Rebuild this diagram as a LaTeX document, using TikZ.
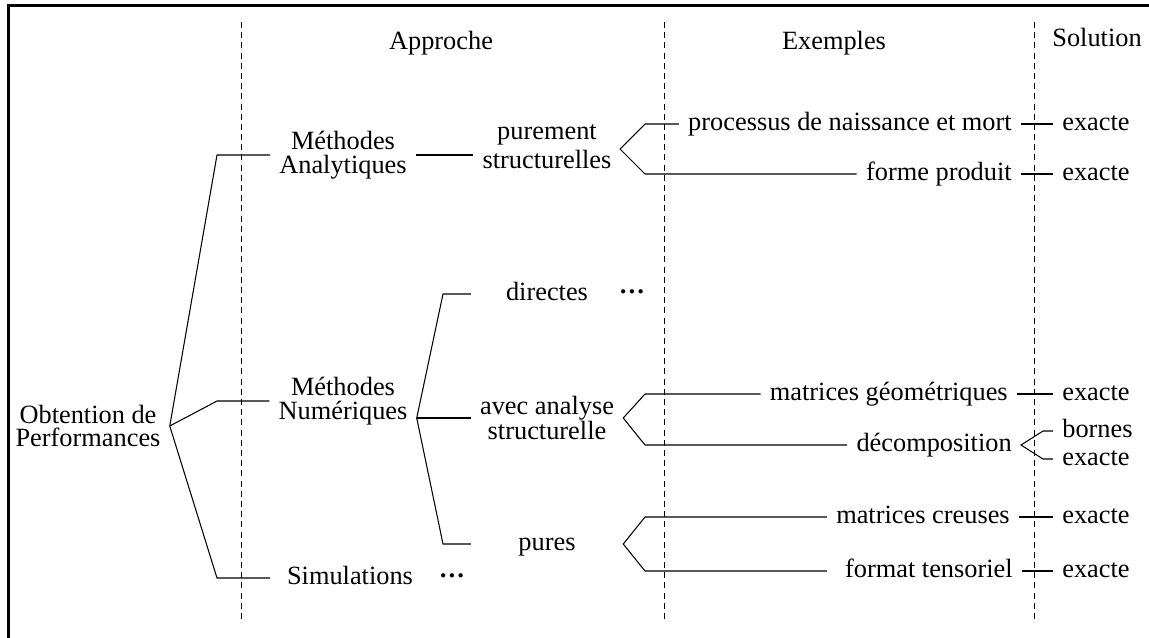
\documentclass[tikz,border=0pt]{standalone}
\usepackage{fontspec}
\setmainfont{Liberation Serif}
\begin{document}
\begin{tikzpicture}[x=0.02cm,y=-0.02cm,line width=0.6pt,
  every node/.style={font=\fontsize{15}{13.5}\selectfont,inner sep=5pt},
  one/.style={text height=10.5pt,text depth=3pt},
  two/.style={align=center},
  sep/.style={dashed,dash pattern=on 3.4pt off 2.4pt,line width=0.5pt}]
\useasboundingbox (0,0) rectangle (1149,637);
\draw[line width=1.7pt] (8.5,660) -- (8.5,5.5) -- (1170,5.5);

\draw[sep] (241.5,22) -- (241.5,622);
\draw[sep] (664,22) -- (664,622);
\draw[sep] (1034.5,22) -- (1034.5,622);

\node[anchor=base] (happ) at (441,49) {Approche};
\node[anchor=base] (hexp) at (834,49) {Exemples};
\node[anchor=base] (hsol) at (1097,46) {Solution};

\node[two] (obt) at (88,426) {Obtention de\\Performances};
\node[two] (ma) at (343,155) {Méthodes\\Analytiques};
\node[two] (mn) at (343,401) {Méthodes\\Numériques};
\node[one] (sim) at (350,578) {Simulations};
\node[one] (simd) at (452,578) {\textbf{···}};

\node[two] (pa) at (547,147) {purement\\[1.8pt]structurelles};
\node[one] (dir) at (547,294) {directes};
\node[one] (dird) at (632,294) {\textbf{···}};
\node[two] (aa) at (547,418) {avec analyse\\structurelle};
\node[one] (pu) at (547,544) {pures};

\node[one,anchor=east] (pn) at (1021,124) {processus de naissance et mort};
\node[one,anchor=east] (fp) at (1021,174) {forme produit};
\node[one,anchor=east] (mg) at (1017,394) {matrices géométriques};
\node[one,anchor=east] (dc) at (1021,445) {décomposition};
\node[one,anchor=east] (mc) at (1019,517) {matrices creuses};
\node[one,anchor=east] (ft) at (1022,571) {format tensoriel};

\node[one,anchor=west] (s1) at (1053,124) {exacte};
\node[one,anchor=west] (s2) at (1053,174) {exacte};
\node[one,anchor=west] (s3) at (1053,394) {exacte};
\node[one,anchor=west] (s4) at (1053,431) {bornes};
\node[one,anchor=west] (s5) at (1053,459) {exacte};
\node[one,anchor=west] (s6) at (1053,517) {exacte};
\node[one,anchor=west] (s7) at (1053,571) {exacte};

\coordinate (c0) at (217,0);
\coordinate (c1) at (443,0);
\coordinate (c2) at (645,0);
\coordinate (c3) at (1043,0);
\coordinate (fa) at (620,149);
\coordinate (t1) at (mn.east |- aa.east);
\coordinate (fc) at (aa.east |- pu);

\draw (obt.east) -- (ma.west -| c0) -- (ma.west);
\draw (obt.east) -- (mn.west -| c0) -- (mn.west);
\draw (obt.east) -- (sim -| c0) -- (sim -| ma.west);
\draw (ma.east) -- (ma.east -| pa.west);

\draw (t1) -- (dir -| c1) -- (dir -| aa.west);
\draw (t1) -- (aa.west);
\draw (t1) -- (pu -| c1) -- (pu -| aa.west);

\draw (pn.west) -- (pn.west -| c2) -- (fa) -- (fp.west -| c2) -- (fp.west);
\draw (mg.west) -- (mg.west -| c2) -- (aa.east) -- (dc.west -| c2) -- (dc.west);
\draw (mc.west) -- (mc.west -| c2) -- (fc) -- (ft.west -| c2) -- (ft -| mc.west);

\draw (pn) -- (s1);
\draw (fp) -- (s2);
\draw (mg) -- (s3);
\draw (s4.west) -- (s4.west -| c3) -- (dc.east) -- (s5.west -| c3) -- (s5.west);
\draw (mc) -- (s6);
\draw (ft) -- (s7);
\end{tikzpicture}
\end{document}
